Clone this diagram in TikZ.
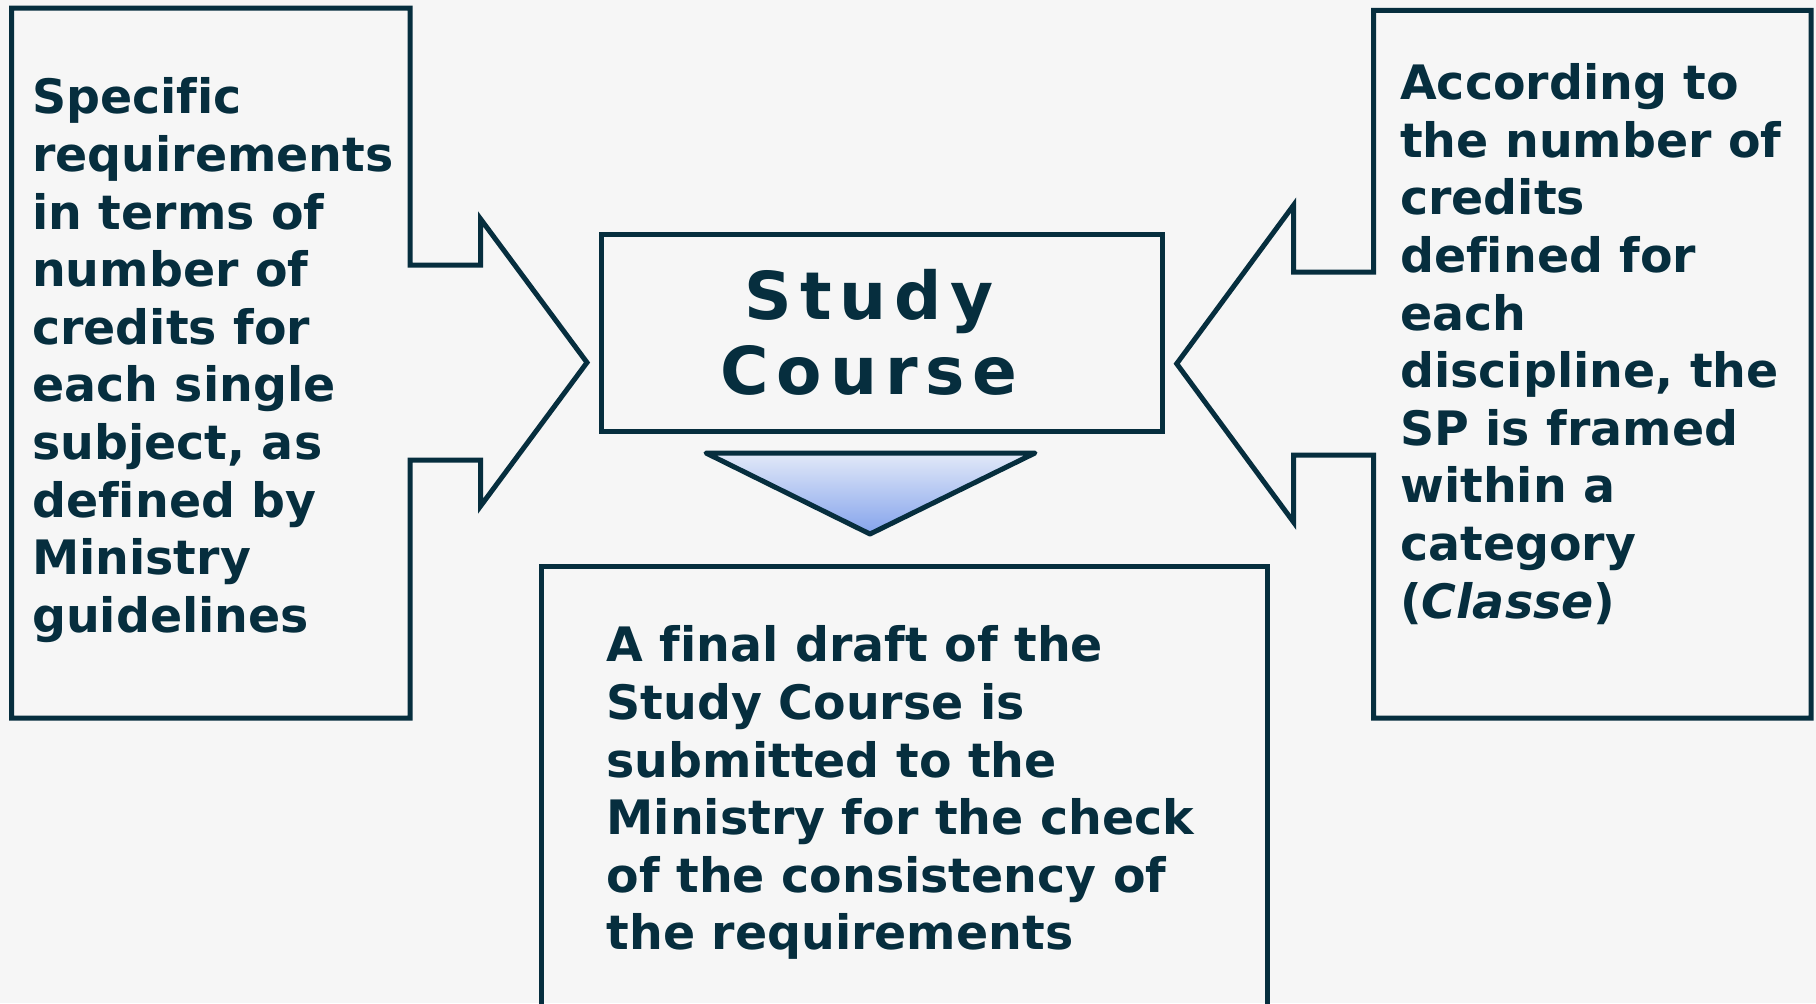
\documentclass[tikz,border=0pt]{standalone}
\usepackage{fontspec}
\setmainfont{DejaVu Sans}[Ligatures=NoCommon]
\newfontfamily\titlefont{DejaVu Sans}[LetterSpace=12,Ligatures=NoCommon]
\usetikzlibrary{positioning}
\definecolor{navy}{RGB}{6,46,62}
\definecolor{paper}{RGB}{246,246,246}
\definecolor{tritop}{RGB}{226,233,248}
\definecolor{tribot}{RGB}{132,163,236}

\begin{document}
\begin{tikzpicture}
	[x=0.1mm,y=-0.1mm,
	 outline/.style={line width=0.5mm,navy,line join=miter},
	 tri/.style={line width=0.5mm,draw=navy,line join=round,top color=tritop,bottom color=tribot},
	 txt/.style={inner sep=0pt,anchor=north west,align=left,text=navy,
	             font=\bfseries\fontsize{13.5}{16.4}\selectfont},
	 titletxt/.style={inner sep=0pt,anchor=north,align=center,text=navy,
	             font=\titlefont\bfseries\fontsize{18.8}{21.3}\selectfont}]

	\fill[paper] (0,0) rectangle (1816,1003);
	\useasboundingbox (0,0) rectangle (1816,1003);

	\draw[outline] (11.6,8) -- (410,8) -- (410,265) -- (480.6,265) -- (480.6,219)
		-- (587,362.5) -- (480.6,506) -- (480.6,460) -- (410,460) -- (410,718)
		-- (11.6,718) -- cycle;
	\draw[outline] (1811,10.4) -- (1373.6,10.4) -- (1373.6,272) -- (1293.7,272) -- (1293.7,205)
		-- (1176.7,363.7) -- (1293.7,522.3) -- (1293.7,455.2) -- (1373.6,455.2) -- (1373.6,718)
		-- (1811,718) -- cycle;

	\draw[outline] (601,234) rectangle (1162,431);
	\shade[tri] (706,453) -- (1035,453) -- (870,534) -- cycle;
	\draw[outline] (541,1020) -- (541,566) -- (1267,566) -- (1267,1020);

	\node[titletxt] (study) at (869,269) {Study\\Course};
	\node[txt] (rules) at (31.5,77) {Specific\\requirements\\in terms of\\number of\\credits for\\each single\\subject, as\\defined by\\Ministry\\guidelines};
	\node[txt] (credits) at (1399.5,62.7) {According to\\the number of\\credits\\defined for\\each\\discipline, the\\SP is framed\\within a\\category\\(\textit{Classe})};
	\node[txt] (draft) at (606,625) {A final draft of the\\Study Course is\\submitted to the\\Ministry for the check\\of the consistency of\\the requirements};
\end{tikzpicture}
\end{document}
